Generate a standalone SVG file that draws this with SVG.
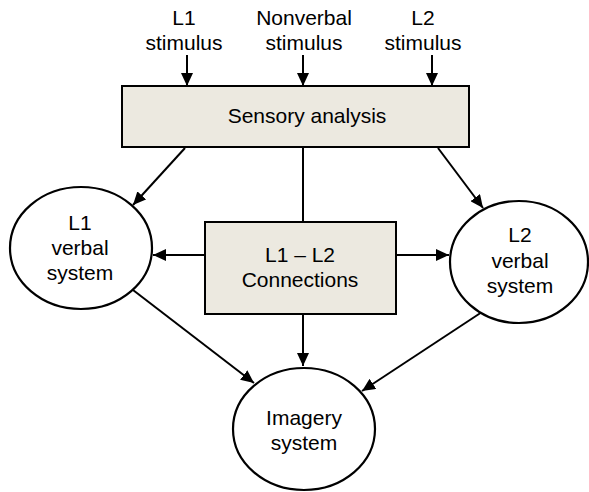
<svg xmlns="http://www.w3.org/2000/svg" width="589" height="492" viewBox="0 0 589 492">
  <defs>
    <marker id="arrow" viewBox="0 0 13 12" refX="13" refY="6" markerWidth="13" markerHeight="12" markerUnits="userSpaceOnUse" orient="auto">
      <path d="M0,0 L13,6 L0,12 Z" fill="#000"/>
    </marker>
    <style>
      .box { fill: #ece9e0; stroke: #000; stroke-width: 2; }
      .oval { fill: #fff; stroke: #000; stroke-width: 2.2; }
      .edge { fill: none; stroke: #000; stroke-width: 2; }
      .arr { marker-end: url(#arrow); }
      text { font-family: "Liberation Sans", Arial, sans-serif; font-size: 21px; fill: #000; text-anchor: middle; }
    </style>
  </defs>
  <rect width="589" height="492" fill="#fff"/>

  <g id="connectors">
    <line class="edge arr" x1="187" y1="55" x2="187" y2="86"/>
    <line class="edge arr" x1="303" y1="55" x2="303" y2="86"/>
    <line class="edge arr" x1="432" y1="55" x2="432" y2="86"/>
    <line class="edge arr" x1="185" y1="148" x2="133" y2="205"/>
    <line class="edge arr" x1="438" y1="148" x2="483" y2="208"/>
    <line class="edge" x1="303" y1="148" x2="303" y2="222"/>
    <line class="edge arr" x1="205" y1="255" x2="153" y2="255"/>
    <line class="edge arr" x1="396" y1="255" x2="449" y2="255"/>
    <line class="edge arr" x1="303" y1="314" x2="303" y2="366"/>
    <line class="edge arr" x1="133" y1="290" x2="254" y2="383"/>
    <line class="edge arr" x1="482" y1="312" x2="362" y2="391"/>
  </g>

  <g id="stimulus-l1">
    <text x="184" y="25">L1</text>
    <text x="184" y="50">stimulus</text>
  </g>
  <g id="stimulus-nonverbal">
    <text x="304" y="25">Nonverbal</text>
    <text x="304" y="50">stimulus</text>
  </g>
  <g id="stimulus-l2">
    <text x="423" y="25">L2</text>
    <text x="423" y="50">stimulus</text>
  </g>

  <g id="sensory-analysis">
    <rect class="box" x="122" y="86" width="347" height="61"/>
    <text x="307" y="123">Sensory analysis</text>
  </g>

  <g id="l1-verbal">
    <ellipse class="oval" cx="81" cy="248" rx="71" ry="61"/>
    <text x="80" y="230">L1</text>
    <text x="80" y="255">verbal</text>
    <text x="80" y="280">system</text>
  </g>

  <g id="connections">
    <rect class="box" x="205" y="222" width="191" height="92"/>
    <text x="300" y="262">L1 – L2</text>
    <text x="300" y="287">Connections</text>
  </g>

  <g id="l2-verbal">
    <ellipse class="oval" cx="519" cy="262" rx="69" ry="61"/>
    <text x="520" y="242">L2</text>
    <text x="520" y="268">verbal</text>
    <text x="520" y="293">system</text>
  </g>

  <g id="imagery">
    <ellipse class="oval" cx="304" cy="429" rx="71" ry="61"/>
    <text x="304" y="425">Imagery</text>
    <text x="304" y="450">system</text>
  </g>
</svg>
